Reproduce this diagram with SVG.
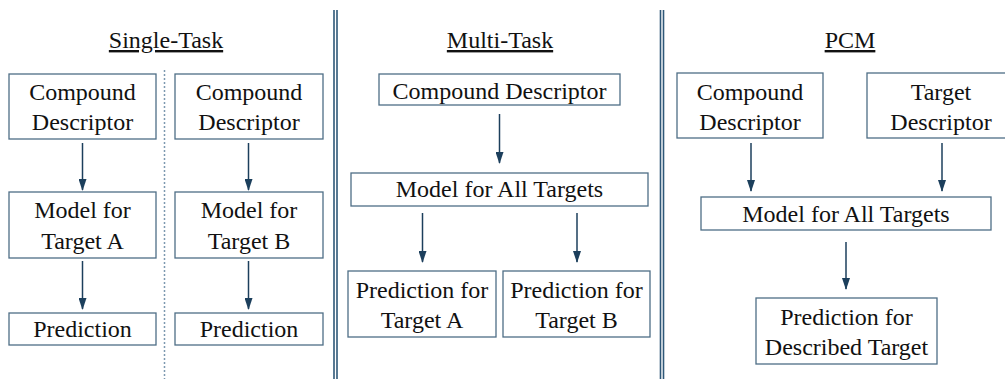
<svg xmlns="http://www.w3.org/2000/svg" width="1005" height="379" viewBox="0 0 1005 379">
<defs>
<marker id="ah" markerWidth="12" markerHeight="8" refX="11" refY="4" orient="auto" markerUnits="userSpaceOnUse" viewBox="0 0 12 8">
<path d="M0,0 L12,4 L0,8 Z" fill="#1c3f5c"/>
</marker>
<style>
.box{fill:#fff;stroke:#4e6e86;stroke-width:1.3}
.arr{stroke:#1c3f5c;stroke-width:1.5;fill:none;marker-end:url(#ah)}
.sep{stroke:#2f5878;stroke-width:1.6}
</style>
</defs>
<rect width="1005" height="379" fill="#fff"/>
<g id="separators">
<line class="sep" x1="334" y1="10" x2="334" y2="379"/>
<line class="sep" x1="337" y1="10" x2="337" y2="379"/>
<line class="sep" x1="660.5" y1="10" x2="660.5" y2="379"/>
<line class="sep" x1="663.5" y1="10" x2="663.5" y2="379"/>
<line x1="164.5" y1="70" x2="164.5" y2="379" stroke="#7d99b0" stroke-width="1.5" stroke-dasharray="2,2"/>
</g>
<g id="connectors">
<line class="arr" x1="82.5" y1="143" x2="82.5" y2="190"/>
<line class="arr" x1="82.5" y1="261" x2="82.5" y2="309"/>
<line class="arr" x1="248.5" y1="143" x2="248.5" y2="190"/>
<line class="arr" x1="248.5" y1="261" x2="248.5" y2="309"/>
<line class="arr" x1="499.5" y1="114" x2="499.5" y2="163"/>
<line class="arr" x1="422.5" y1="213" x2="422.5" y2="262"/>
<line class="arr" x1="577" y1="213" x2="577" y2="262"/>
<line class="arr" x1="751" y1="143" x2="751" y2="191"/>
<line class="arr" x1="942" y1="143" x2="942" y2="191"/>
<line class="arr" x1="846" y1="242" x2="846" y2="289"/>
</g>
<g font-family="Liberation Serif, Tinos, Noto Serif, DejaVu Serif, Times New Roman, Times, serif" font-size="24" fill="#111" text-anchor="middle">
<g id="titles" text-decoration="underline">
<text x="166" y="48">Single-Task</text>
<text x="500" y="48">Multi-Task</text>
<text x="850" y="48">PCM</text>
</g>
<g id="st-a-desc"><rect class="box" x="9" y="74" width="147" height="65"/><text x="82.5" y="100">Compound</text><text x="82.5" y="130">Descriptor</text></g>
<g id="st-b-desc"><rect class="box" x="175" y="74" width="148" height="65"/><text x="249" y="100">Compound</text><text x="249" y="130">Descriptor</text></g>
<g id="st-a-model"><rect class="box" x="9" y="192" width="147" height="66"/><text x="82.5" y="218">Model for</text><text x="82.5" y="249">Target A</text></g>
<g id="st-b-model"><rect class="box" x="175" y="192" width="148" height="66"/><text x="249" y="218">Model for</text><text x="249" y="249">Target B</text></g>
<g id="st-a-pred"><rect class="box" x="9" y="313" width="147" height="32"/><text x="82.5" y="337">Prediction</text></g>
<g id="st-b-pred"><rect class="box" x="175" y="313" width="148" height="32"/><text x="249" y="337">Prediction</text></g>
<g id="mt-desc"><rect class="box" x="379" y="74" width="241" height="31"/><text x="499.5" y="99">Compound Descriptor</text></g>
<g id="mt-model"><rect class="box" x="351" y="173" width="297" height="33"/><text x="499.5" y="197">Model for All Targets</text></g>
<g id="mt-pred-a"><rect class="box" x="348" y="271" width="148" height="66"/><text x="422" y="298">Prediction for</text><text x="422" y="328">Target A</text></g>
<g id="mt-pred-b"><rect class="box" x="503" y="271" width="147" height="66"/><text x="576.5" y="298">Prediction for</text><text x="576.5" y="328">Target B</text></g>
<g id="pcm-cdesc"><rect class="box" x="677" y="73" width="146" height="65"/><text x="750" y="100">Compound</text><text x="750" y="130">Descriptor</text></g>
<g id="pcm-tdesc"><rect class="box" x="867" y="73" width="145" height="65"/><text x="941" y="100">Target</text><text x="941" y="130">Descriptor</text></g>
<g id="pcm-model"><rect class="box" x="701" y="197" width="290" height="33"/><text x="846" y="222">Model for All Targets</text></g>
<g id="pcm-pred"><rect class="box" x="756" y="298" width="181" height="66"/><text x="846.5" y="325">Prediction for</text><text x="846.5" y="355">Described Target</text></g>
</g>
</svg>
